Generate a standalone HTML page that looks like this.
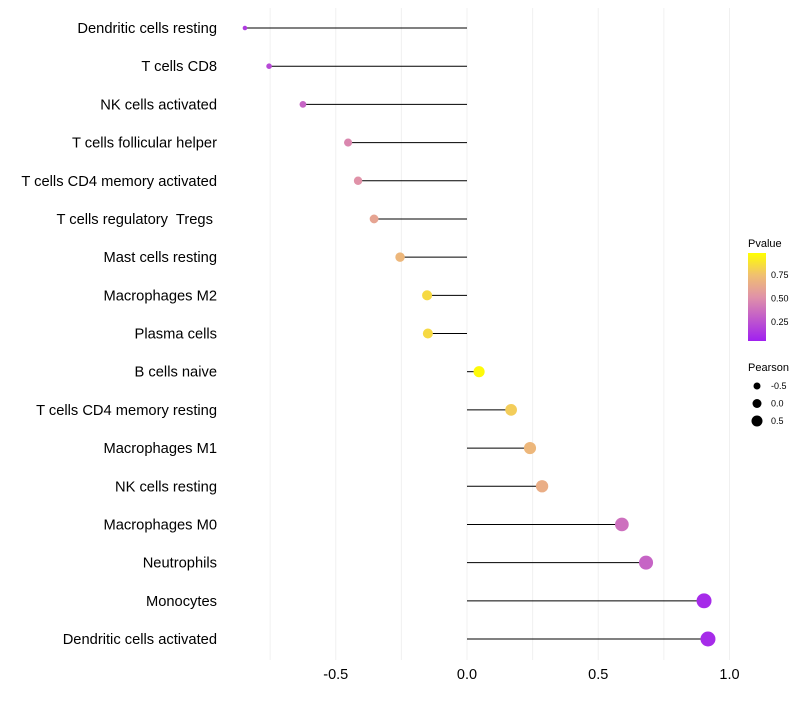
<!DOCTYPE html>
<html><head><meta charset="utf-8"><style>
body{margin:0;background:#fff;font-family:"Liberation Sans",sans-serif}
svg text{font-family:"Liberation Sans",sans-serif;white-space:pre}
</style></head><body>
<svg id="chart" width="800" height="700"></svg>
<script>
const categories=["Dendritic cells resting","T cells CD8","NK cells activated","T cells follicular helper","T cells CD4 memory activated","T cells regulatory  Tregs ","Mast cells resting","Macrophages M2","Plasma cells","B cells naive","T cells CD4 memory resting","Macrophages M1","NK cells resting","Macrophages M0","Neutrophils","Monocytes","Dendritic cells activated"];
const pearson=[-0.846,-0.754,-0.625,-0.453,-0.415,-0.354,-0.255,-0.152,-0.149,0.046,0.168,0.24,0.286,0.59,0.682,0.903,0.918];
const pvalue=[0.12,0.18,0.3,0.45,0.5,0.6,0.7,0.85,0.85,0.98,0.8,0.7,0.65,0.35,0.3,0.05,0.05];
const xTicks=[-0.5,0,0.5,1];
const xTickLabels=["-0.5","0.0","0.5","1.0"];
const xGrid=[-0.75,-0.5,-0.25,0,0.25,0.5,0.75,1];
const pTicks=[0.25,0.5,0.75];
const sizeLegend=[-0.5,0,0.5];

const NS="http://www.w3.org/2000/svg";
const svg=document.getElementById('chart');
function mk(t,a,p){const e=document.createElementNS(NS,t);for(const k in a)e.setAttribute(k,a[k]);(p||svg).appendChild(e);return e;}
const X=v=>467+v*262.5;
const Y=i=>28+i*(611/16);
function lerp(a,b,t){return a.map((v,i)=>Math.round(v+(b[i]-v)*t));}
function color(p){const s=[[0,[160,32,240]],[0.5,[224,146,168]],[0.75,[240,192,112]],[1,[255,255,0]]];
 for(let i=1;i<s.length;i++){if(p<=s[i][0]){const t=(p-s[i-1][0])/(s[i][0]-s[i-1][0]);return 'rgb('+lerp(s[i-1][1],s[i][1],t).join(',')+')';}}return 'rgb(255,255,0)';}
const R=v=>Math.sqrt(5+Math.max(0,v+0.85)*29);
const RL=v=>3.5+(v+0.5)*2;

xGrid.forEach(g=>{const l=mk('line',{x1:X(g),x2:X(g),y1:8,y2:660,stroke:'#f0f0f0','stroke-width':1});
});
xTicks.forEach((t,i)=>{const e=mk('text',{x:X(t),y:679,'text-anchor':'middle','font-size':14.5,fill:'#000'});e.textContent=xTickLabels[i];
});
categories.forEach((c,i)=>{const e=mk('text',{x:217,y:Y(i)+5,'text-anchor':'end','font-size':14.7,fill:'#000'});e.textContent=c;

const l=mk('line',{x1:X(0),x2:X(pearson[i]),y1:Y(i),y2:Y(i),stroke:'#000','stroke-width':1});

const d=mk('circle',{cx:X(pearson[i]),cy:Y(i),r:R(pearson[i]),fill:color(pvalue[i])});
});

const lt=mk('text',{x:748,y:247,'font-size':11,fill:'#000'});lt.textContent='Pvalue';

const defs=mk('defs',{});const gr=mk('linearGradient',{id:'pg',x1:0,y1:1,x2:0,y2:0},defs);
[0,0.25,0.5,0.75,1].forEach(o=>mk('stop',{offset:o,'stop-color':color(o)},gr));
const gy0=253,gy1=341;const PY=p=>gy1-(p-0.05)/(0.98-0.05)*(gy1-gy0);
const rb=mk('rect',{x:748,y:gy0,width:18,height:gy1-gy0,fill:'url(#pg)'});

pTicks.forEach(p=>{const e=mk('text',{x:771,y:PY(p)+3,'font-size':9,fill:'#000'});e.textContent=p.toFixed(2);
});
const st=mk('text',{x:748,y:371,'font-size':11,fill:'#000'});st.textContent='Pearson';

sizeLegend.forEach((v,i)=>{const c=mk('circle',{cx:757,cy:386+i*17.5,r:RL(v),fill:'#000'});

const e=mk('text',{x:771,y:389+i*17.5,'font-size':9,fill:'#000'});e.textContent=v.toFixed(1);
});
</script>
</body></html>
